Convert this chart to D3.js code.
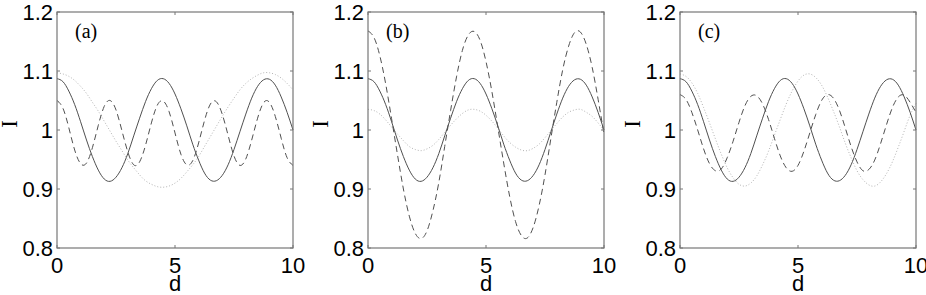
<!DOCTYPE html>
<html>
<head>
<meta charset="utf-8">
<script src="https://cdn.jsdelivr.net/npm/d3@7"></script>
<style>
  body { margin: 0; background: #fff; }
  .tick-label { font-family: "Liberation Sans", Arial, sans-serif; font-size: 22px; fill: #000; }
  .serif { font-family: "Liberation Serif", "Times New Roman", serif; fill: #000; }
</style>
</head>
<body>
<svg id="chart" width="926" height="295"></svg>
<script>
// Sample positions along d (0 .. 10, step 0.25)
var dValues = [0, 0.25, 0.5, 0.75, 1, 1.25, 1.5, 1.75, 2, 2.25, 2.5, 2.75, 3, 3.25, 3.5, 3.75,
  4, 4.25, 4.5, 4.75, 5, 5.25, 5.5, 5.75, 6, 6.25, 6.5, 6.75, 7, 7.25, 7.5, 7.75,
  8, 8.25, 8.5, 8.75, 9, 9.25, 9.5, 9.75, 10];

// Solid curve, same in all three panels
var solidI = [1.087, 1.082, 1.066, 1.043, 1.014, 0.983, 0.955, 0.932, 0.917, 0.913, 0.920, 0.936,
  0.960, 0.990, 1.020, 1.048, 1.070, 1.084, 1.087, 1.079, 1.061, 1.036, 1.007, 0.976,
  0.949, 0.927, 0.915, 0.914, 0.923, 0.941, 0.967, 0.997, 1.027, 1.054, 1.074, 1.085,
  1.086, 1.076, 1.056, 1.030, 1.000];

// Panel (a)
var dashedA = [1.050, 1.037, 1.004, 0.966, 0.943, 0.944, 0.970, 1.008, 1.040, 1.050, 1.034, 0.999,
  0.963, 0.941, 0.946, 0.974, 1.012, 1.042, 1.049, 1.031, 0.995, 0.959, 0.941, 0.948,
  0.978, 1.016, 1.044, 1.048, 1.027, 0.991, 0.956, 0.940, 0.951, 0.983, 1.020, 1.046,
  1.047, 1.023, 0.986, 0.953, 0.940];
var dottedA = [1.097, 1.095, 1.091, 1.084, 1.074, 1.062, 1.047, 1.032, 1.015, 0.998, 0.981, 0.965,
  0.949, 0.936, 0.924, 0.914, 0.908, 0.904, 0.903, 0.905, 0.910, 0.918, 0.929, 0.941,
  0.955, 0.972, 0.989, 1.006, 1.023, 1.039, 1.054, 1.068, 1.079, 1.087, 1.093, 1.097,
  1.097, 1.094, 1.088, 1.079, 1.068];

// Panel (b)
var dashedB = [1.168, 1.157, 1.126, 1.078, 1.019, 0.958, 0.900, 0.854, 0.825, 0.816, 0.829, 0.863,
  0.911, 0.972, 1.033, 1.090, 1.135, 1.161, 1.167, 1.152, 1.116, 1.065, 1.005, 0.944,
  0.888, 0.845, 0.821, 0.817, 0.835, 0.872, 0.924, 0.986, 1.047, 1.102, 1.142, 1.165,
  1.166, 1.145, 1.106, 1.052, 0.993];
var dottedB = [1.035, 1.033, 1.027, 1.017, 1.005, 0.993, 0.982, 0.972, 0.967, 0.965, 0.968, 0.974,
  0.984, 0.996, 1.008, 1.019, 1.028, 1.034, 1.035, 1.032, 1.025, 1.015, 1.003, 0.990,
  0.979, 0.971, 0.966, 0.965, 0.969, 0.976, 0.987, 0.999, 1.011, 1.022, 1.030, 1.034,
  1.035, 1.030, 1.023, 1.012, 1.000];

// Panel (c)
var dashedC = [1.060, 1.052, 1.030, 1.000, 0.968, 0.943, 0.931, 0.934, 0.953, 0.981, 1.013, 1.041,
  1.057, 1.058, 1.044, 1.018, 0.986, 0.956, 0.936, 0.930, 0.940, 0.964, 0.995, 1.026,
  1.050, 1.060, 1.054, 1.034, 1.004, 0.972, 0.946, 0.931, 0.933, 0.949, 0.977, 1.009,
  1.038, 1.056, 1.059, 1.047, 1.030];
var dottedC = [1.095, 1.091, 1.080, 1.062, 1.038, 1.012, 0.985, 0.959, 0.936, 0.919, 0.908, 0.905,
  0.910, 0.922, 0.941, 0.964, 0.991, 1.018, 1.044, 1.066, 1.083, 1.093, 1.095, 1.089,
  1.076, 1.056, 1.032, 1.006, 0.978, 0.953, 0.931, 0.916, 0.907, 0.905, 0.912, 0.926,
  0.946, 0.971, 0.998, 1.025, 1.045];

var panelLabels = ["(a)", "(b)", "(c)"];
var xTicks = [0, 5, 10];
var yTicks = [0.8, 0.9, 1, 1.1, 1.2];

var panels = [
  { label: panelLabels[0], left: 57, series: [dottedA, dashedA, solidI] },
  { label: panelLabels[1], left: 368, series: [dottedB, dashedB, solidI] },
  { label: panelLabels[2], left: 680, series: [dottedC, dashedC, solidI] }
];
// stroke styles in the same order as series above
var styles = [
  { stroke: "#b4b4b4", dash: "1,2", width: 1 },
  { stroke: "#505050", dash: "6,4", width: 1 },
  { stroke: "#505050", dash: null, width: 1 }
];

var svg = d3.select("#chart");
var plotW = 236, plotH = 236, plotTop = 12;

panels.forEach(function(p) {
  var x = d3.scaleLinear().domain([0, 10]).range([0, plotW]);
  var y = d3.scaleLinear().domain([0.8, 1.2]).range([plotH, 0]);

  var g = svg.append("g").attr("transform", "translate(" + p.left + "," + plotTop + ")");

  // Curves
  var line = d3.line()
    .x(function(d, i) { return x(dValues[i]); })
    .y(function(d) { return y(d); })
    .curve(d3.curveNatural);

  p.series.forEach(function(s, i) {
    g.append("path")
      .datum(s)
      .attr("fill", "none")
      .attr("stroke", styles[i].stroke)
      .attr("stroke-width", styles[i].width)
      .attr("stroke-dasharray", styles[i].dash)
      .attr("d", line);
  });

  // Box
  g.append("rect")
    .attr("x", 0).attr("y", 0)
    .attr("width", plotW).attr("height", plotH)
    .attr("fill", "none")
    .attr("stroke", "#777")
    .attr("stroke-width", 1.2);

  // Inward ticks on all four sides
  var tickLen = 3;
  yTicks.forEach(function(t) {
    g.append("line").attr("x1", 0).attr("x2", tickLen)
      .attr("y1", y(t)).attr("y2", y(t)).attr("stroke", "#777");
    g.append("line").attr("x1", plotW - tickLen).attr("x2", plotW)
      .attr("y1", y(t)).attr("y2", y(t)).attr("stroke", "#777");
    g.append("text").attr("class", "tick-label")
      .attr("x", -4).attr("y", y(t))
      .attr("dy", "0.36em")
      .attr("text-anchor", "end")
      .text(d3.format(".1f")(t).replace(/^1\.0$/, "1"));
  });
  xTicks.forEach(function(t) {
    g.append("line").attr("x1", x(t)).attr("x2", x(t))
      .attr("y1", plotH).attr("y2", plotH - tickLen).attr("stroke", "#777");
    g.append("line").attr("x1", x(t)).attr("x2", x(t))
      .attr("y1", 0).attr("y2", tickLen).attr("stroke", "#777");
    g.append("text").attr("class", "tick-label")
      .attr("x", x(t)).attr("y", plotH + 25)
      .attr("text-anchor", "middle")
      .text(t);
  });

  // Axis labels
  g.append("text").attr("class", "tick-label")
    .attr("x", plotW / 2).attr("y", plotH + 43)
    .attr("text-anchor", "middle")
    .text("d");

  g.append("text").attr("class", "serif")
    .attr("transform", "translate(-40," + (plotH / 2 - 6) + ") rotate(-90)")
    .attr("text-anchor", "middle")
    .style("font-size", "23px")
    .text("I");

  g.append("text").attr("class", "serif")
    .attr("x", 18).attr("y", 26)
    .style("font-size", "20px")
    .text(p.label);
});
</script>
</body>
</html>
